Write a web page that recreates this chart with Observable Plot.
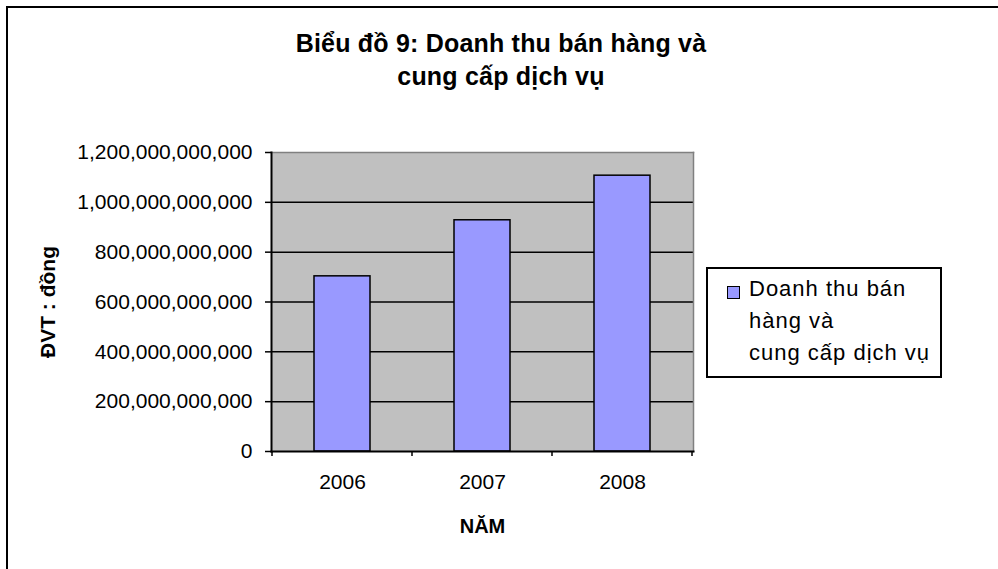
<!DOCTYPE html>
<html>
<head>
<meta charset="utf-8">
<script src="https://cdn.jsdelivr.net/npm/d3@7"></script>
<script src="https://cdn.jsdelivr.net/npm/@observablehq/plot@0.6"></script>
<style>
html, body { margin: 0; padding: 0; background: #fff; overflow: hidden; }
#wrap { position: relative; width: 998px; height: 569px; overflow: hidden; font-family: "Liberation Sans", Arial, sans-serif; color: #000; background: #fff; }
#outer { position: absolute; left: 6px; top: 6px; width: 1200px; height: 1200px; border-left: 2px solid #000; border-top: 2px solid #000; }
#chart { position: absolute; left: 0; top: 0; }
#title { position: absolute; left: 151px; width: 700px; top: 27px; text-align: center; font-weight: bold; font-size: 25px; line-height: 33px; letter-spacing: 0.2px; white-space: nowrap; }
#legend { position: absolute; left: 706px; top: 267px; width: 236px; height: 111px; box-sizing: border-box; border: 2px solid #000; background: #fff; }
#legend .sw { position: absolute; left: 19px; top: 17px; width: 13px; height: 13px; box-sizing: border-box; border: 1px solid #000; background: #9999FF; }
#legend .tx { position: absolute; left: 41px; top: 4px; font-size: 22px; line-height: 32px; letter-spacing: 1px; white-space: nowrap; }
</style>
</head>
<body>
<div id="wrap">
  <div id="outer"></div>
  <div id="chart"></div>
  <div id="title"></div>
  <div id="legend"><div class="sw"></div><div class="tx"></div></div>
</div>
<script>
// ---- data ----
const years = ["2006", "2007", "2008"];
const revenue = [703e9, 928e9, 1107e9];
const yTicks = [0, 200e9, 400e9, 600e9, 800e9, 1000e9, 1200e9];
const titleLines = ["Biểu đồ 9: Doanh thu bán hàng và", "cung cấp dịch vụ"];
const seriesLabelLines = ["Doanh thu bán", "hàng và", "cung cấp dịch vụ"];
const xTitle = "NĂM";
const yTitle = "ĐVT : đồng";

const data = years.map((year, i) => ({year, value: revenue[i]}));
const font = '"Liberation Sans", Arial, sans-serif';

const chart = Plot.plot({
  width: 998,
  height: 569,
  marginLeft: 271,
  marginRight: 305,
  marginTop: 152,
  marginBottom: 118,
  style: {fontFamily: font, background: "transparent", color: "black", overflow: "visible"},
  x: {domain: years, paddingInner: 0.6, paddingOuter: 0.3},
  y: {domain: [0, 1200e9]},
  marks: [
    Plot.frame({fill: "#C0C0C0", stroke: null}),
    Plot.ruleY(yTicks.filter(v => v > 0 && v < 1200e9), {stroke: "black", strokeWidth: 1.5}),
    Plot.barY(data, {x: "year", y: "value", fill: "#9999FF", stroke: "black", strokeWidth: 1.5}),
    Plot.frame({anchor: "top", stroke: "#808080", strokeWidth: 1.5}),
    Plot.frame({anchor: "right", stroke: "#808080", strokeWidth: 1.5}),
    Plot.frame({anchor: "left", stroke: "black", strokeWidth: 2}),
    Plot.frame({anchor: "bottom", stroke: "black", strokeWidth: 2}),
    Plot.axisY({ticks: yTicks, tickFormat: d3.format(",.0f"), tickSize: 6, tickPadding: 13, fontSize: 21, strokeWidth: 1.5, label: null}),
    Plot.axisX({tickSize: 0, tickPadding: 23, fontSize: 21, label: null}),
    Plot.text([yTitle], {text: d => d, frameAnchor: "left", textAnchor: "middle", rotate: -90, dx: -231, lineAnchor: "top", fontWeight: "bold", fontSize: 21}),
    Plot.text([xTitle], {text: d => d, frameAnchor: "bottom", textAnchor: "middle", dy: 81, lineAnchor: "bottom", fontWeight: "bold", fontSize: 20})
  ]
});

// category-boundary tick marks on the x axis (Excel style)
const xs = chart.scale("x");
const ys = chart.scale("y");
const step = xs.step ?? xs.bandwidth / (1 - 0.6);
const half = (step - xs.bandwidth) / 2;
const y0 = ys.apply(0);
const bounds = years.map(d => xs.apply(d) - half).concat([xs.apply(years[years.length - 1]) + xs.bandwidth + half]);
d3.select(chart).append("g")
  .selectAll("line").data(bounds).join("line")
  .attr("x1", d => d).attr("x2", d => d)
  .attr("y1", y0).attr("y2", y0 + 5)
  .attr("stroke", "black").attr("stroke-width", 1.5);

document.getElementById("chart").appendChild(chart);
document.getElementById("title").innerHTML = titleLines.join("<br>");
document.querySelector("#legend .tx").innerHTML = seriesLabelLines.join("<br>");
</script>
</body>
</html>
